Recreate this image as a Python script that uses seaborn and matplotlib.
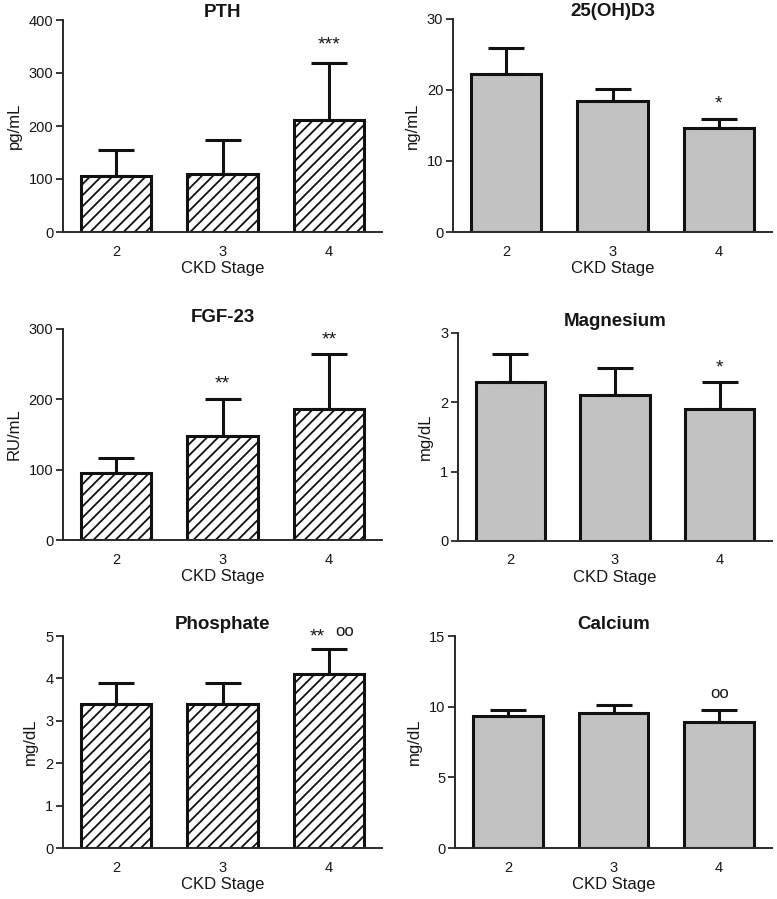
import matplotlib
matplotlib.use("Agg")
import matplotlib.pyplot as plt
import seaborn as sns
import numpy as np
import pandas as pd

sns.set_style("white")
plt.rcParams['font.family'] = ['Liberation Sans', 'DejaVu Sans']
plt.rcParams['hatch.linewidth'] = 1.3
plt.rcParams['hatch.color'] = '#1a1a1a'

stages = ['2', '3', '4']

pth_mean = [105, 110, 212]
pth_sd = [50, 63, 106]
d3_mean = [22.3, 18.5, 14.7]
d3_sd = [3.6, 1.7, 1.2]
fgf_mean = [95, 148, 186]
fgf_sd = [21, 52, 79]
mg_mean = [2.3, 2.1, 1.9]
mg_sd = [0.4, 0.4, 0.4]
phos_mean = [3.4, 3.4, 4.1]
phos_sd = [0.5, 0.5, 0.6]
ca_mean = [9.33, 9.52, 8.9]
ca_sd = [0.42, 0.58, 0.85]

titles = ['PTH', '25(OH)D3', 'FGF-23', 'Magnesium', 'Phosphate', 'Calcium']
ylabels = ['pg/mL', 'ng/mL', 'RU/mL', 'mg/dL', 'mg/dL', 'mg/dL']
ymax = [400, 30, 300, 3, 5, 15]
ysteps = [100, 10, 100, 1, 1, 5]
hatched = [True, False, True, False, True, False]

# annotations: (panel, x position, y value, text)
annots = [
    (0, 2.0, 352, '***'),
    (1, 2.0, 18.0, '*'),
    (2, 1.0, 222, '**'),
    (2, 2.0, 285, '**'),
    (3, 2.0, 2.5, '*'),
    (4, 1.89, 4.98, '**'),
    (4, 2.15, 5.1, 'oo'),
    (5, 2.0, 10.9, 'oo'),
]

means = [pth_mean, d3_mean, fgf_mean, mg_mean, phos_mean, ca_mean]
sds = [pth_sd, d3_sd, fgf_sd, mg_sd, phos_sd, ca_sd]

W, H = 777, 899
fig = plt.figure(figsize=(W / 100, H / 100), dpi=100)

# axes boxes in pixels: left, right, top, bottom
boxes = [
    (63, 382, 20, 232),
    (453, 772, 19, 232),
    (63, 382, 329, 540),
    (458, 772, 333, 541),
    (63, 382, 636, 848),
    (455, 772, 636, 848),
]
title_pads = [2, 2, 5, 5, 5, 5]

txtc = '#161616'
axes = []
for i, (l, r, t, b) in enumerate(boxes):
    ax = fig.add_axes([l / W, 1 - b / H, (r - l) / W, (b - t) / H])
    df = pd.DataFrame({'stage': stages, 'val': means[i]})
    if hatched[i]:
        sns.barplot(data=df, x='stage', y='val', ax=ax, color='white',
                    edgecolor='#111111', linewidth=2.2, width=0.66,
                    hatch='///', errorbar=None, saturation=1)
    else:
        sns.barplot(data=df, x='stage', y='val', ax=ax, color='#c2c2c2',
                    edgecolor='#111111', linewidth=2.2, width=0.66,
                    errorbar=None, saturation=1)
    xs = np.arange(len(stages))
    ax.errorbar(xs, means[i], yerr=[np.zeros(len(stages)), sds[i]], fmt='none',
                ecolor='#111111', elinewidth=2.2, capsize=13, capthick=2.2, zorder=1)
    ax.set_xlim(-0.5, 2.5)
    ax.set_ylim(0, ymax[i])
    ticks = np.arange(0, ymax[i] + ysteps[i] / 2, ysteps[i])
    ax.set_yticks(ticks)
    ax.set_yticklabels([f'{v:g}' for v in ticks])
    for s in ['top', 'right']:
        ax.spines[s].set_visible(False)
    for s in ['left', 'bottom']:
        ax.spines[s].set_linewidth(1.4)
        ax.spines[s].set_color('#2a2a2a')
    ax.tick_params(axis='y', which='major', direction='out', length=5, width=1.3,
                   color='#2a2a2a', labelsize=10.5, labelcolor=txtc, pad=2, left=True)
    ax.tick_params(axis='x', length=0, labelsize=10.5, labelcolor=txtc, pad=9)
    ax.set_xlabel('CKD Stage', fontsize=12, color=txtc, labelpad=2)
    ax.set_ylabel(ylabels[i], fontsize=12, color=txtc, labelpad=5)
    ax.set_title(titles[i], fontsize=13.5, fontweight='bold', color=txtc,
                 pad=title_pads[i])
    ax.set_facecolor('white')
    axes.append(ax)

for p, xv, yv, txt in annots:
    fs = 14 if '*' in txt else 12
    axes[p].text(xv, yv, txt, ha='center', va='center', fontsize=fs, color=txtc,
                 clip_on=False)

fig.savefig('out.png', dpi=100, facecolor='white')
